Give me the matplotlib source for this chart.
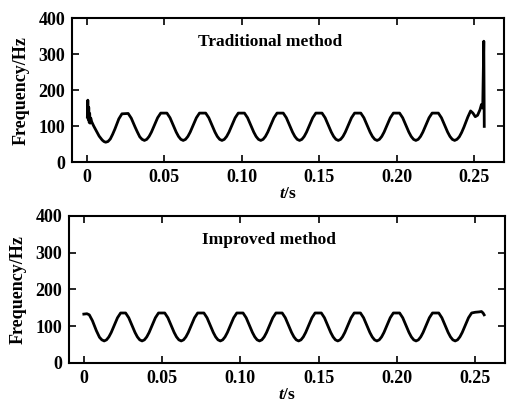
import matplotlib
matplotlib.use('Agg')
import matplotlib.pyplot as plt

plt.rcParams['font.family'] = 'Liberation Serif'
plt.rcParams['font.weight'] = 'bold'
plt.rcParams['axes.labelweight'] = 'bold'
plt.rcParams['mathtext.fontset'] = 'custom'
plt.rcParams['mathtext.it'] = 'Liberation Serif:bold:italic'
plt.rcParams['mathtext.rm'] = 'Liberation Serif:bold'

# traditional method
t_trad = [0.0004, 0.0007, 0.0010, 0.0013, 0.0016, 0.0019, 0.0022, 0.0026, 0.0032, 0.0045,
          0.0060, 0.0080, 0.0100, 0.0111,
          0.0122, 0.0137, 0.0152, 0.0167, 0.0182, 0.0207, 0.0227, 0.0267, 0.0287, 0.0312, 0.0327, 0.0342, 0.0357,
          0.0372, 0.0387, 0.0402, 0.0417, 0.0432, 0.0457, 0.0477, 0.0517, 0.0537, 0.0562, 0.0577, 0.0592, 0.0607,
          0.0622, 0.0637, 0.0652, 0.0667, 0.0682, 0.0707, 0.0727, 0.0767, 0.0787, 0.0812, 0.0827, 0.0842, 0.0857,
          0.0872, 0.0887, 0.0902, 0.0917, 0.0932, 0.0957, 0.0977, 0.1017, 0.1037, 0.1062, 0.1077, 0.1092, 0.1107,
          0.1122, 0.1137, 0.1152, 0.1167, 0.1182, 0.1207, 0.1227, 0.1267, 0.1287, 0.1312, 0.1327, 0.1342, 0.1357,
          0.1372, 0.1387, 0.1402, 0.1417, 0.1432, 0.1457, 0.1477, 0.1517, 0.1537, 0.1562, 0.1577, 0.1592, 0.1607,
          0.1622, 0.1637, 0.1652, 0.1667, 0.1682, 0.1707, 0.1727, 0.1767, 0.1787, 0.1812, 0.1827, 0.1842, 0.1857,
          0.1872, 0.1887, 0.1902, 0.1917, 0.1932, 0.1957, 0.1977, 0.2017, 0.2037, 0.2062, 0.2077, 0.2092, 0.2107,
          0.2122, 0.2137, 0.2152, 0.2167, 0.2182, 0.2207, 0.2227, 0.2267, 0.2287, 0.2312, 0.2327, 0.2342, 0.2357,
          0.2372, 0.2387, 0.2402, 0.2417, 0.2432, 0.2457, 0.2475, 0.2490, 0.2505, 0.2520, 0.2535,
          0.2545, 0.2553, 0.2560, 0.2563]
f_trad = [125, 172, 118, 152, 110, 135, 108, 122, 112, 100,
          88, 72, 61, 57,
          55, 57, 64, 77, 92, 120, 134, 135, 122, 97, 83, 70, 63,
          60, 63, 71, 83, 98, 123, 136, 136, 123, 98, 83, 71, 63,
          60, 63, 71, 83, 98, 123, 136, 136, 123, 98, 83, 71, 63,
          60, 63, 71, 83, 98, 123, 136, 136, 123, 98, 83, 71, 63,
          60, 63, 71, 83, 98, 123, 136, 136, 123, 98, 83, 71, 63,
          60, 63, 71, 83, 98, 123, 136, 136, 123, 98, 83, 71, 63,
          60, 63, 71, 83, 98, 123, 136, 136, 123, 98, 83, 71, 63,
          60, 63, 71, 83, 98, 123, 136, 136, 123, 98, 83, 71, 63,
          60, 63, 71, 83, 98, 123, 136, 136, 123, 98, 83, 71, 63,
          60, 63, 70, 82, 97, 125, 142, 136, 126, 130, 145,
          160, 150, 336, 99]

# improved method
t_impr = [0.0000, 0.0020, 0.0035, 0.0055, 0.0080, 0.0100, 0.0115,
          0.0130, 0.0145, 0.0160, 0.0175, 0.0190, 0.0215, 0.0235, 0.0267, 0.0287, 0.0312, 0.0327, 0.0342, 0.0357,
          0.0372, 0.0387, 0.0402, 0.0417, 0.0432, 0.0457, 0.0477, 0.0517, 0.0537, 0.0562, 0.0577, 0.0592, 0.0607,
          0.0622, 0.0637, 0.0652, 0.0667, 0.0682, 0.0707, 0.0727, 0.0767, 0.0787, 0.0812, 0.0827, 0.0842, 0.0857,
          0.0872, 0.0887, 0.0902, 0.0917, 0.0932, 0.0957, 0.0977, 0.1017, 0.1037, 0.1062, 0.1077, 0.1092, 0.1107,
          0.1122, 0.1137, 0.1152, 0.1167, 0.1182, 0.1207, 0.1227, 0.1267, 0.1287, 0.1312, 0.1327, 0.1342, 0.1357,
          0.1372, 0.1387, 0.1402, 0.1417, 0.1432, 0.1457, 0.1477, 0.1517, 0.1537, 0.1562, 0.1577, 0.1592, 0.1607,
          0.1622, 0.1637, 0.1652, 0.1667, 0.1682, 0.1707, 0.1727, 0.1767, 0.1787, 0.1812, 0.1827, 0.1842, 0.1857,
          0.1872, 0.1887, 0.1902, 0.1917, 0.1932, 0.1957, 0.1977, 0.2017, 0.2037, 0.2062, 0.2077, 0.2092, 0.2107,
          0.2122, 0.2137, 0.2152, 0.2167, 0.2182, 0.2207, 0.2227, 0.2267, 0.2287, 0.2312, 0.2327, 0.2342, 0.2357,
          0.2372, 0.2387, 0.2402, 0.2417, 0.2432, 0.2457, 0.2477, 0.2500, 0.2525, 0.2540, 0.2550, 0.2557]
f_impr = [133, 134, 131, 115, 88, 70, 63,
          60, 63, 71, 83, 98, 123, 136, 136, 123, 98, 83, 71, 63,
          60, 63, 71, 83, 98, 123, 136, 136, 123, 98, 83, 71, 63,
          60, 63, 71, 83, 98, 123, 136, 136, 123, 98, 83, 71, 63,
          60, 63, 71, 83, 98, 123, 136, 136, 123, 98, 83, 71, 63,
          60, 63, 71, 83, 98, 123, 136, 136, 123, 98, 83, 71, 63,
          60, 63, 71, 83, 98, 123, 136, 136, 123, 98, 83, 71, 63,
          60, 63, 71, 83, 98, 123, 136, 136, 123, 98, 83, 71, 63,
          60, 63, 71, 83, 98, 123, 136, 136, 123, 98, 83, 71, 63,
          60, 63, 71, 83, 98, 123, 136, 136, 123, 98, 83, 71, 63,
          60, 63, 71, 83, 98, 123, 136, 138, 139, 140, 136, 131]

xticks = [0, 0.05, 0.10, 0.15, 0.20, 0.25]
xticklabels = ['0', '0.05', '0.10', '0.15', '0.20', '0.25']
yticks = [0, 100, 200, 300, 400]

fig = plt.figure(figsize=(5.07, 4.04), dpi=100)
ax1 = fig.add_axes([0.142, 0.599, 0.852, 0.356])
ax2 = fig.add_axes([0.136, 0.1015, 0.860, 0.364])

for ax, t, f, label in [(ax1, t_trad, f_trad, 'Traditional method'),
                        (ax2, t_impr, f_impr, 'Improved method')]:
    ax.plot(t, f, color='black', lw=2.0, solid_joinstyle='round')
    ax.set_xlim(-0.0095, 0.269)
    ax.set_ylim(0, 400)
    ax.set_xticks(xticks)
    ax.set_xticklabels(xticklabels)
    ax.set_yticks(yticks)
    ax.tick_params(direction='in', top=True, right=True, length=5, width=1.2,
                   labelsize=13, pad=5)
    for s in ax.spines.values():
        s.set_linewidth(1.5)
    ax.set_xlabel(r'$t$/s', fontsize=12.5, labelpad=0)
    ax.set_ylabel('Frequency/Hz', fontsize=13, labelpad=6)
    ax.text(0.118, 334, label, ha='center', va='center', fontsize=12.5, fontweight='bold')

fig.savefig('out.png', dpi=100, facecolor='w')
